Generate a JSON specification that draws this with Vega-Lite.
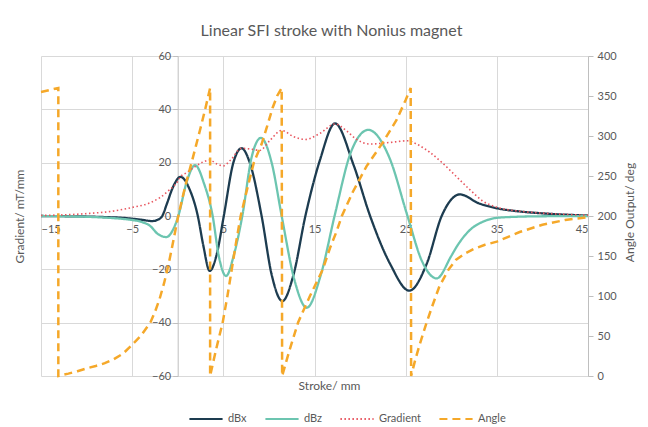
{
  "$schema": "https://vega.github.io/schema/vega-lite/v6.json",
  "width": 547,
  "height": 320,
  "autosize": {"type": "none"},
  "padding": {"left": 41, "top": 56, "right": 60, "bottom": 51},
  "background": "white",
  "title": {"text": "Linear SFI stroke with Nonius magnet", "font": "Lato", "fontSize": 16, "fontWeight": "normal", "color": "#595959", "anchor": "middle", "frame": "group", "dx": 17, "offset": 11},
  "config": {
    "view": {"stroke": null},
    "axis": {"labelFont": "Lato", "titleFont": "Lato", "labelColor": "#595959", "titleColor": "#595959", "labelFontSize": 11, "titleFontSize": 12, "titleFontWeight": "normal", "gridColor": "#d9d9d9", "gridWidth": 1, "domainColor": "#bfbfbf", "tickColor": "#bfbfbf"}
  },
  "datasets": {
    "curves": [
      {"series": "dBx", "x": -15, "value": 0}, {"series": "dBx", "x": -12, "value": -0.1}, {"series": "dBx", "x": -10, "value": -0.2}, {"series": "dBx", "x": -8, "value": -0.4}, {"series": "dBx", "x": -6, "value": -0.7}, {"series": "dBx", "x": -4, "value": -1.4}, {"series": "dBx", "x": -2.8, "value": -1.9}, {"series": "dBx", "x": -2.2, "value": -1.4}, {"series": "dBx", "x": -1.7, "value": 0}, {"series": "dBx", "x": -1.2, "value": 4.5}, {"series": "dBx", "x": -0.5, "value": 11}, {"series": "dBx", "x": 0.3, "value": 14.7}, {"series": "dBx", "x": 1.3, "value": 10}, {"series": "dBx", "x": 2.2, "value": 0}, {"series": "dBx", "x": 2.8, "value": -11}, {"series": "dBx", "x": 3.5, "value": -20.6}, {"series": "dBx", "x": 4.3, "value": -14}, {"series": "dBx", "x": 5.05, "value": 0}, {"series": "dBx", "x": 6.1, "value": 20}, {"series": "dBx", "x": 7.0, "value": 25.4}, {"series": "dBx", "x": 7.9, "value": 20}, {"series": "dBx", "x": 9.2, "value": 0}, {"series": "dBx", "x": 10.3, "value": -22}, {"series": "dBx", "x": 11.47, "value": -31.9}, {"series": "dBx", "x": 12.7, "value": -22}, {"series": "dBx", "x": 14.0, "value": 0}, {"series": "dBx", "x": 15.6, "value": 21}, {"series": "dBx", "x": 17.25, "value": 34.7}, {"series": "dBx", "x": 19.3, "value": 19}, {"series": "dBx", "x": 21.1, "value": 0}, {"series": "dBx", "x": 23.3, "value": -18}, {"series": "dBx", "x": 25.4, "value": -28}, {"series": "dBx", "x": 27.3, "value": -18}, {"series": "dBx", "x": 28.95, "value": 0}, {"series": "dBx", "x": 30.96, "value": 8.1}, {"series": "dBx", "x": 33, "value": 4.8}, {"series": "dBx", "x": 35, "value": 2.9}, {"series": "dBx", "x": 37.5, "value": 1.7}, {"series": "dBx", "x": 40, "value": 1.0}, {"series": "dBx", "x": 42.5, "value": 0.5}, {"series": "dBx", "x": 45, "value": 0.2},
      {"series": "dBz", "x": -15, "value": 0}, {"series": "dBz", "x": -12, "value": -0.15}, {"series": "dBz", "x": -10, "value": -0.3}, {"series": "dBz", "x": -8, "value": -0.6}, {"series": "dBz", "x": -6, "value": -1.1}, {"series": "dBz", "x": -5, "value": -1.5}, {"series": "dBz", "x": -4, "value": -2.2}, {"series": "dBz", "x": -3, "value": -3.8}, {"series": "dBz", "x": -2.2, "value": -6.7}, {"series": "dBz", "x": -1.25, "value": -7.9}, {"series": "dBz", "x": -0.5, "value": -5}, {"series": "dBz", "x": 0.06, "value": 0}, {"series": "dBz", "x": 1.0, "value": 13}, {"series": "dBz", "x": 1.9, "value": 19.1}, {"series": "dBz", "x": 2.9, "value": 12}, {"series": "dBz", "x": 3.83, "value": 0}, {"series": "dBz", "x": 4.5, "value": -15}, {"series": "dBz", "x": 5.3, "value": -22.5}, {"series": "dBz", "x": 6.2, "value": -14}, {"series": "dBz", "x": 7.08, "value": 0}, {"series": "dBz", "x": 8.1, "value": 22}, {"series": "dBz", "x": 9.13, "value": 29.3}, {"series": "dBz", "x": 10.3, "value": 20}, {"series": "dBz", "x": 11.4, "value": 0}, {"series": "dBz", "x": 12.8, "value": -24}, {"series": "dBz", "x": 14.15, "value": -34.4}, {"series": "dBz", "x": 15.7, "value": -22}, {"series": "dBz", "x": 17.2, "value": 0}, {"series": "dBz", "x": 19.0, "value": 24}, {"series": "dBz", "x": 20.9, "value": 32.3}, {"series": "dBz", "x": 23.2, "value": 22}, {"series": "dBz", "x": 25.2, "value": 0}, {"series": "dBz", "x": 26.8, "value": -17}, {"series": "dBz", "x": 28.4, "value": -23.4}, {"series": "dBz", "x": 30.0, "value": -15}, {"series": "dBz", "x": 30.6, "value": -11.5}, {"series": "dBz", "x": 32.06, "value": -5.2}, {"series": "dBz", "x": 33.5, "value": -2.1}, {"series": "dBz", "x": 35, "value": -0.7}, {"series": "dBz", "x": 37.5, "value": -0.25}, {"series": "dBz", "x": 40, "value": -0.1}, {"series": "dBz", "x": 45, "value": 0},
      {"series": "Gradient", "x": -15, "value": 0.2}, {"series": "Gradient", "x": -12, "value": 0.5}, {"series": "Gradient", "x": -10, "value": 0.9}, {"series": "Gradient", "x": -7, "value": 1.9}, {"series": "Gradient", "x": -5, "value": 3.2}, {"series": "Gradient", "x": -3, "value": 5}, {"series": "Gradient", "x": -2, "value": 6.8}, {"series": "Gradient", "x": -1, "value": 9.5}, {"series": "Gradient", "x": 0, "value": 13}, {"series": "Gradient", "x": 0.3, "value": 14.7}, {"series": "Gradient", "x": 1.0, "value": 16.3}, {"series": "Gradient", "x": 1.9, "value": 18.5}, {"series": "Gradient", "x": 2.8, "value": 20.3}, {"series": "Gradient", "x": 3.5, "value": 21}, {"series": "Gradient", "x": 4.3, "value": 19.5}, {"series": "Gradient", "x": 5.0, "value": 18.8}, {"series": "Gradient", "x": 5.8, "value": 21}, {"series": "Gradient", "x": 7.0, "value": 25.4}, {"series": "Gradient", "x": 8.2, "value": 25}, {"series": "Gradient", "x": 9.0, "value": 24.6}, {"series": "Gradient", "x": 10.1, "value": 28.3}, {"series": "Gradient", "x": 11.4, "value": 32.1}, {"series": "Gradient", "x": 12.7, "value": 29.8}, {"series": "Gradient", "x": 14.0, "value": 28.7}, {"series": "Gradient", "x": 15.6, "value": 31}, {"series": "Gradient", "x": 17.25, "value": 34.5}, {"series": "Gradient", "x": 18.5, "value": 32}, {"series": "Gradient", "x": 19.5, "value": 29}, {"series": "Gradient", "x": 21.1, "value": 27}, {"series": "Gradient", "x": 23.3, "value": 27.6}, {"series": "Gradient", "x": 25.2, "value": 28.2}, {"series": "Gradient", "x": 26.3, "value": 26.8}, {"series": "Gradient", "x": 27.6, "value": 24}, {"series": "Gradient", "x": 29.0, "value": 20}, {"series": "Gradient", "x": 30.5, "value": 15}, {"series": "Gradient", "x": 32, "value": 10}, {"series": "Gradient", "x": 33.5, "value": 5.5}, {"series": "Gradient", "x": 35, "value": 3.3}, {"series": "Gradient", "x": 37.5, "value": 1.8}, {"series": "Gradient", "x": 40, "value": 1.1}, {"series": "Gradient", "x": 42.5, "value": 0.6}, {"series": "Gradient", "x": 45, "value": 0.3}
    ],
    "angle": [
      {"i": 1, "series": "Angle", "x": -15, "angle": 355}, {"i": 2, "series": "Angle", "x": -13.1, "angle": 360}, {"i": 3, "series": "Angle", "x": -13.1, "angle": 0},
      {"i": 4, "series": "Angle", "x": -12, "angle": 3}, {"i": 5, "series": "Angle", "x": -11, "angle": 6}, {"i": 6, "series": "Angle", "x": -10, "angle": 9.5}, {"i": 7, "series": "Angle", "x": -9, "angle": 12.5}, {"i": 8, "series": "Angle", "x": -8, "angle": 16}, {"i": 9, "series": "Angle", "x": -7, "angle": 21}, {"i": 10, "series": "Angle", "x": -6, "angle": 28}, {"i": 11, "series": "Angle", "x": -5, "angle": 39}, {"i": 12, "series": "Angle", "x": -4, "angle": 51}, {"i": 13, "series": "Angle", "x": -3, "angle": 67}, {"i": 14, "series": "Angle", "x": -2.5, "angle": 80}, {"i": 15, "series": "Angle", "x": -2, "angle": 96}, {"i": 16, "series": "Angle", "x": -1.5, "angle": 116}, {"i": 17, "series": "Angle", "x": -1, "angle": 140}, {"i": 18, "series": "Angle", "x": -0.5, "angle": 168}, {"i": 19, "series": "Angle", "x": 0, "angle": 197}, {"i": 20, "series": "Angle", "x": 0.5, "angle": 222}, {"i": 21, "series": "Angle", "x": 1, "angle": 245}, {"i": 22, "series": "Angle", "x": 1.5, "angle": 266}, {"i": 23, "series": "Angle", "x": 2, "angle": 288}, {"i": 24, "series": "Angle", "x": 2.5, "angle": 310}, {"i": 25, "series": "Angle", "x": 3, "angle": 333}, {"i": 26, "series": "Angle", "x": 3.55, "angle": 360}, {"i": 27, "series": "Angle", "x": 3.55, "angle": 0},
      {"i": 28, "series": "Angle", "x": 4.2, "angle": 33}, {"i": 29, "series": "Angle", "x": 4.93, "angle": 67}, {"i": 30, "series": "Angle", "x": 5.45, "angle": 100}, {"i": 31, "series": "Angle", "x": 5.92, "angle": 133}, {"i": 32, "series": "Angle", "x": 6.4, "angle": 167}, {"i": 33, "series": "Angle", "x": 6.9, "angle": 200}, {"i": 34, "series": "Angle", "x": 7.6, "angle": 233}, {"i": 35, "series": "Angle", "x": 8.35, "angle": 267}, {"i": 36, "series": "Angle", "x": 9.2, "angle": 290}, {"i": 37, "series": "Angle", "x": 9.8, "angle": 312}, {"i": 38, "series": "Angle", "x": 10.4, "angle": 335}, {"i": 39, "series": "Angle", "x": 10.9, "angle": 350}, {"i": 40, "series": "Angle", "x": 11.4, "angle": 360}, {"i": 41, "series": "Angle", "x": 11.45, "angle": 0},
      {"i": 42, "series": "Angle", "x": 12.2, "angle": 30}, {"i": 43, "series": "Angle", "x": 13.2, "angle": 67}, {"i": 44, "series": "Angle", "x": 14.5, "angle": 100}, {"i": 45, "series": "Angle", "x": 15.9, "angle": 133}, {"i": 46, "series": "Angle", "x": 16.7, "angle": 160}, {"i": 47, "series": "Angle", "x": 17.4, "angle": 180}, {"i": 48, "series": "Angle", "x": 18.0, "angle": 200}, {"i": 49, "series": "Angle", "x": 19.2, "angle": 230}, {"i": 50, "series": "Angle", "x": 20.7, "angle": 262}, {"i": 51, "series": "Angle", "x": 22.5, "angle": 292}, {"i": 52, "series": "Angle", "x": 24.0, "angle": 320}, {"i": 53, "series": "Angle", "x": 25.0, "angle": 345}, {"i": 54, "series": "Angle", "x": 25.55, "angle": 360}, {"i": 55, "series": "Angle", "x": 25.6, "angle": 0},
      {"i": 56, "series": "Angle", "x": 26.0, "angle": 18}, {"i": 57, "series": "Angle", "x": 26.5, "angle": 38}, {"i": 58, "series": "Angle", "x": 27.3, "angle": 67}, {"i": 59, "series": "Angle", "x": 28.0, "angle": 90}, {"i": 60, "series": "Angle", "x": 28.7, "angle": 112}, {"i": 61, "series": "Angle", "x": 29.7, "angle": 133}, {"i": 62, "series": "Angle", "x": 30.5, "angle": 145}, {"i": 63, "series": "Angle", "x": 31.5, "angle": 153}, {"i": 64, "series": "Angle", "x": 32.5, "angle": 159}, {"i": 65, "series": "Angle", "x": 33.7, "angle": 164}, {"i": 66, "series": "Angle", "x": 35, "angle": 168}, {"i": 67, "series": "Angle", "x": 37.5, "angle": 180}, {"i": 68, "series": "Angle", "x": 40, "angle": 189}, {"i": 69, "series": "Angle", "x": 42.5, "angle": 195}, {"i": 70, "series": "Angle", "x": 45, "angle": 198.5}
    ]
  },
  "layer": [
    {
      "layer": [
        {
          "data": {"name": "curves"},
          "transform": [{"filter": {"field": "series", "oneOf": ["dBx", "dBz"]}}],
          "mark": {"type": "line", "interpolate": "monotone", "strokeWidth": 2.3},
          "encoding": {
            "x": {"field": "x", "type": "quantitative", "scale": {"domain": [-15, 45], "nice": false, "zero": false},
              "axis": {"values": [-15, -5, 5, 15, 25, 35, 45], "offset": -160, "ticks": false, "labelPadding": 7, "domainColor": "#d9d9d9", "grid": true, "title": "Stroke/ mm", "titleX": 288, "titleY": 169, "titleBaseline": "middle", "titleAlign": "center"}},
            "y": {"field": "value", "type": "quantitative", "scale": {"domain": [-60, 60], "nice": false, "zero": false},
              "axis": {"values": [-60, -40, -20, 0, 20, 40, 60], "offset": -136.7, "tickSize": 5, "labelPadding": 2, "grid": true, "title": "Gradient/ mT/mm", "titleX": -158, "titleY": 160, "titleAngle": 270, "titleAlign": "center", "titleBaseline": "middle"}},
            "color": {"field": "series", "type": "nominal", "scale": {"domain": ["dBx", "dBz", "Gradient", "Angle"], "range": ["#1d3c50", "#6cc5b0", "#e8565f", "#f5a829"]},
              "legend": {"orient": "none", "legendX": 147, "legendY": 345, "direction": "horizontal", "title": null, "symbolType": "stroke", "symbolSize": 1100, "symbolStrokeWidth": 2, "labelFont": "Lato", "labelFontSize": 11, "labelColor": "#595959", "columnPadding": 14, "labelOffset": 4}},
            "strokeDash": {"field": "series", "type": "nominal", "scale": {"domain": ["dBx", "dBz", "Gradient", "Angle"], "range": [[1, 0], [1, 0], [1.5, 2.5], [8, 5]]}}
          }
        },
        {
          "data": {"name": "curves"},
          "transform": [{"filter": {"field": "series", "equal": "Gradient"}}],
          "mark": {"type": "line", "interpolate": "monotone", "strokeWidth": 1.6},
          "encoding": {
            "x": {"field": "x", "type": "quantitative"},
            "y": {"field": "value", "type": "quantitative"},
            "color": {"field": "series", "type": "nominal"},
            "strokeDash": {"field": "series", "type": "nominal"}
          }
        }
      ]
    },
    {
      "data": {"name": "angle"},
      "mark": {"type": "line", "interpolate": "linear", "strokeWidth": 2.5},
      "encoding": {
        "x": {"field": "x", "type": "quantitative"},
        "y": {"field": "angle", "type": "quantitative", "scale": {"domain": [0, 400], "nice": false, "zero": true},
          "axis": {"orient": "right", "values": [0, 50, 100, 150, 200, 250, 300, 350, 400], "tickSize": 5, "labelPadding": 4, "grid": false, "title": "Angle Output/ deg", "titleX": 41, "titleY": 156, "titleAngle": 270, "titleAlign": "center", "titleBaseline": "middle"}},
        "order": {"field": "i", "type": "quantitative"},
        "color": {"field": "series", "type": "nominal"},
        "strokeDash": {"field": "series", "type": "nominal"}
      }
    }
  ],
  "resolve": {"scale": {"y": "independent"}}
}
